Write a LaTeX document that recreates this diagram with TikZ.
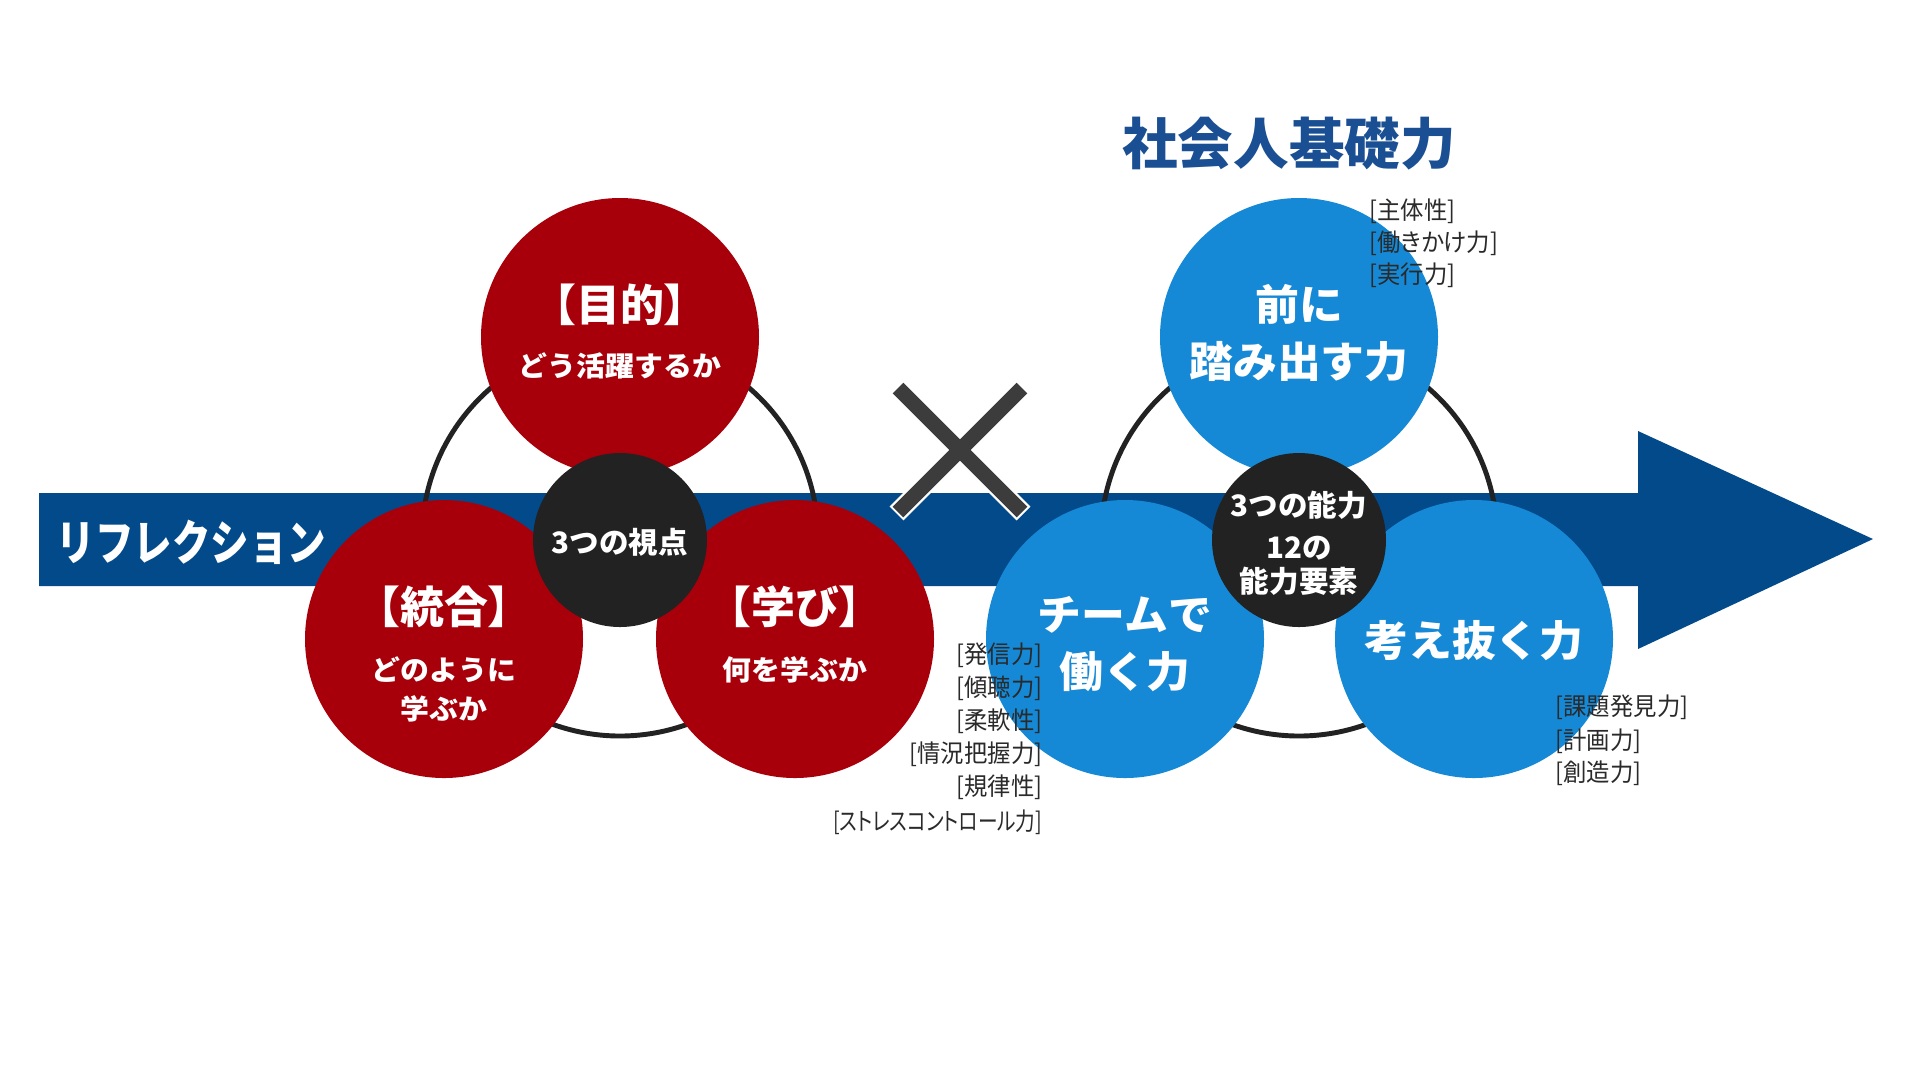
\documentclass[tikz,border=0pt]{standalone}
\usepackage{fontspec}
\setmainfont{Noto Sans CJK JP}
\newfontfamily\jpwide{Noto Sans CJK JP}[FakeStretch=1.04]
\newfontfamily\jpslim{Noto Sans CJK JP}[FakeStretch=0.8]
\newfontfamily\jpnote{Noto Sans CJK JP}[FakeStretch=0.95,RawFeature=+palt]
\newfontfamily\jpnotekana{Noto Sans CJK JP}[FakeStretch=0.8,RawFeature=+palt]
\usetikzlibrary{positioning,calc}
\definecolor{Navy}{HTML}{034A8B}
\definecolor{TitleBlue}{HTML}{1B4F93}
\definecolor{Crimson}{HTML}{A8000A}
\definecolor{Sky}{HTML}{1689D6}
\definecolor{Coal}{HTML}{222222}
\definecolor{CrossInk}{HTML}{3C3C3C}
\definecolor{NoteInk}{HTML}{2A2A2A}
\tikzset{
  redball/.style={circle,fill=Crimson,minimum size=27.8mm,inner sep=0pt},
  blueball/.style={circle,fill=Sky,minimum size=27.8mm,inner sep=0pt},
  hub/.style={circle,fill=Coal,minimum size=17.4mm,inner sep=0pt},
  ring/.style={draw=Coal,line width=1.4pt},
  headtxt/.style={text=white,font=\bfseries\fontsize{12.5}{14}\selectfont,inner sep=0pt},
  subtxt/.style={text=white,font=\jpwide\bfseries\fontsize{7.9}{9}\selectfont,inner sep=0pt},
  powtxt/.style={text=white,font=\jpwide\bfseries\fontsize{12}{14}\selectfont,inner sep=0pt},
  hubtxt/.style={text=white,font=\bfseries\fontsize{8.4}{10}\selectfont,inner sep=0pt},
  notetxt/.style={text=NoteInk,font=\jpnote\fontsize{7}{8}\selectfont,inner sep=0pt},
  crossbar/.style={draw=CrossInk,line width=4.3pt},
  crossedge/.style={draw=white,line width=5.6pt,shorten <=-0.6pt,shorten >=-0.6pt}
}

\begin{document}
\begin{tikzpicture}[x=0.1mm,y=-0.1mm]
      \useasboundingbox[fill=white] (0,0) rectangle (1920,1080);
      \fill[Navy] (39,493) -- (1638,493) -- (1638,431) -- (1873,539) -- (1638,649) -- (1638,586) -- (39,586) -- cycle;
      \node[anchor=west,text=white,font=\jpslim\bfseries\fontsize{13.7}{15}\selectfont,inner sep=0pt] (refl) at (56,542) {リフレクション};

      \coordinate (ringL) at (620,538);
      \coordinate (ringR) at (1299,538);
      \draw[ring] (ringL) circle[radius=19.8mm];
      \draw[ring] (ringR) circle[radius=19.8mm];

      \node[redball] (aim) at (620,337) {};
      \node[redball] (merge) at (444,639) {};
      \node[redball] (learn) at (795,639) {};
      \node[hub] (view) at (620,540) {};
      \node[headtxt] at ([yshift=3.2mm]aim.center) {【目的】};
      \node[subtxt] at ([yshift=-2.9mm]aim.center) {どう活躍するか};
      \node[headtxt] at ([yshift=3.2mm]merge.center) {【統合】};
      \node[subtxt] at ([yshift=-3.1mm]merge.center) {どのように};
      \node[subtxt] at ([yshift=-7.0mm]merge.center) {学ぶか};
      \node[headtxt] at ([yshift=3.2mm]learn.center) {【学び】};
      \node[subtxt] at ([yshift=-3.1mm]learn.center) {何を学ぶか};
      \node[hubtxt] at ([yshift=-0.2mm]view.center) {3つの視点};

      \coordinate (xmid) at (960,450);
      \draw[crossedge] ([shift={(-62,-62)}]xmid) -- ([shift={(62,62)}]xmid);
      \draw[crossedge] ([shift={(62,-62)}]xmid) -- ([shift={(-62,62)}]xmid);
      \draw[crossbar] ([shift={(-62,-62)}]xmid) -- ([shift={(62,62)}]xmid);
      \draw[crossbar] ([shift={(62,-62)}]xmid) -- ([shift={(-62,62)}]xmid);

      \node[text=TitleBlue,font=\bfseries\fontsize{15.8}{17}\selectfont,inner sep=0pt] (title) at (1289,144) {社会人基礎力};
      \node[blueball] (step) at (1299,337) {};
      \node[blueball] (team) at (1125,639) {};
      \node[blueball] (think) at (1474,639) {};
      \node[hub] (core) at (1299,540) {};
      \node[powtxt] at ([yshift=3.3mm]step.center) {前に};
      \node[powtxt] at ([yshift=-2.5mm]step.center) {踏み出す力};
      \node[powtxt] at ([yshift=2.4mm]team.center) {チームで};
      \node[powtxt] at ([yshift=-3.3mm]team.center) {働く力};
      \node[powtxt] at ([yshift=-0.2mm]think.center) {考え抜く力};
      \node[hubtxt] at ([yshift=3.5mm]core.center) {3つの能力};
      \node[hubtxt] at ([yshift=-0.8mm]core.center) {12の};
      \node[hubtxt] at ([yshift=-4.1mm]core.center) {能力要素};

      \node[notetxt,anchor=west] (n1) at (1369,211) {[主体性]};
      \node[notetxt,anchor=west] (n2) at (1369,243) {[働きかけ力]};
      \node[notetxt,anchor=west] (n3) at (1369,275) {[実行力]};
      \node[notetxt,anchor=east] (t1) at (1043,655) {[発信力]};
      \node[notetxt,anchor=east] (t2) at (1043,688) {[傾聴力]};
      \node[notetxt,anchor=east] (t3) at (1043,721) {[柔軟性]};
      \node[notetxt,anchor=east] (t4) at (1043,754) {[情況把握力]};
      \node[notetxt,anchor=east] (t5) at (1043,787) {[規律性]};
      \node[notetxt,anchor=east,font=\jpnotekana\fontsize{7}{8}\selectfont] (t6) at (1043,822) {[ストレスコントロール力]};
      \node[notetxt,anchor=west] (k1) at (1555,707) {[課題発見力]};
      \node[notetxt,anchor=west] (k2) at (1555,741) {[計画力]};
      \node[notetxt,anchor=west] (k3) at (1555,773) {[創造力]};
    \end{tikzpicture}
\end{document}
